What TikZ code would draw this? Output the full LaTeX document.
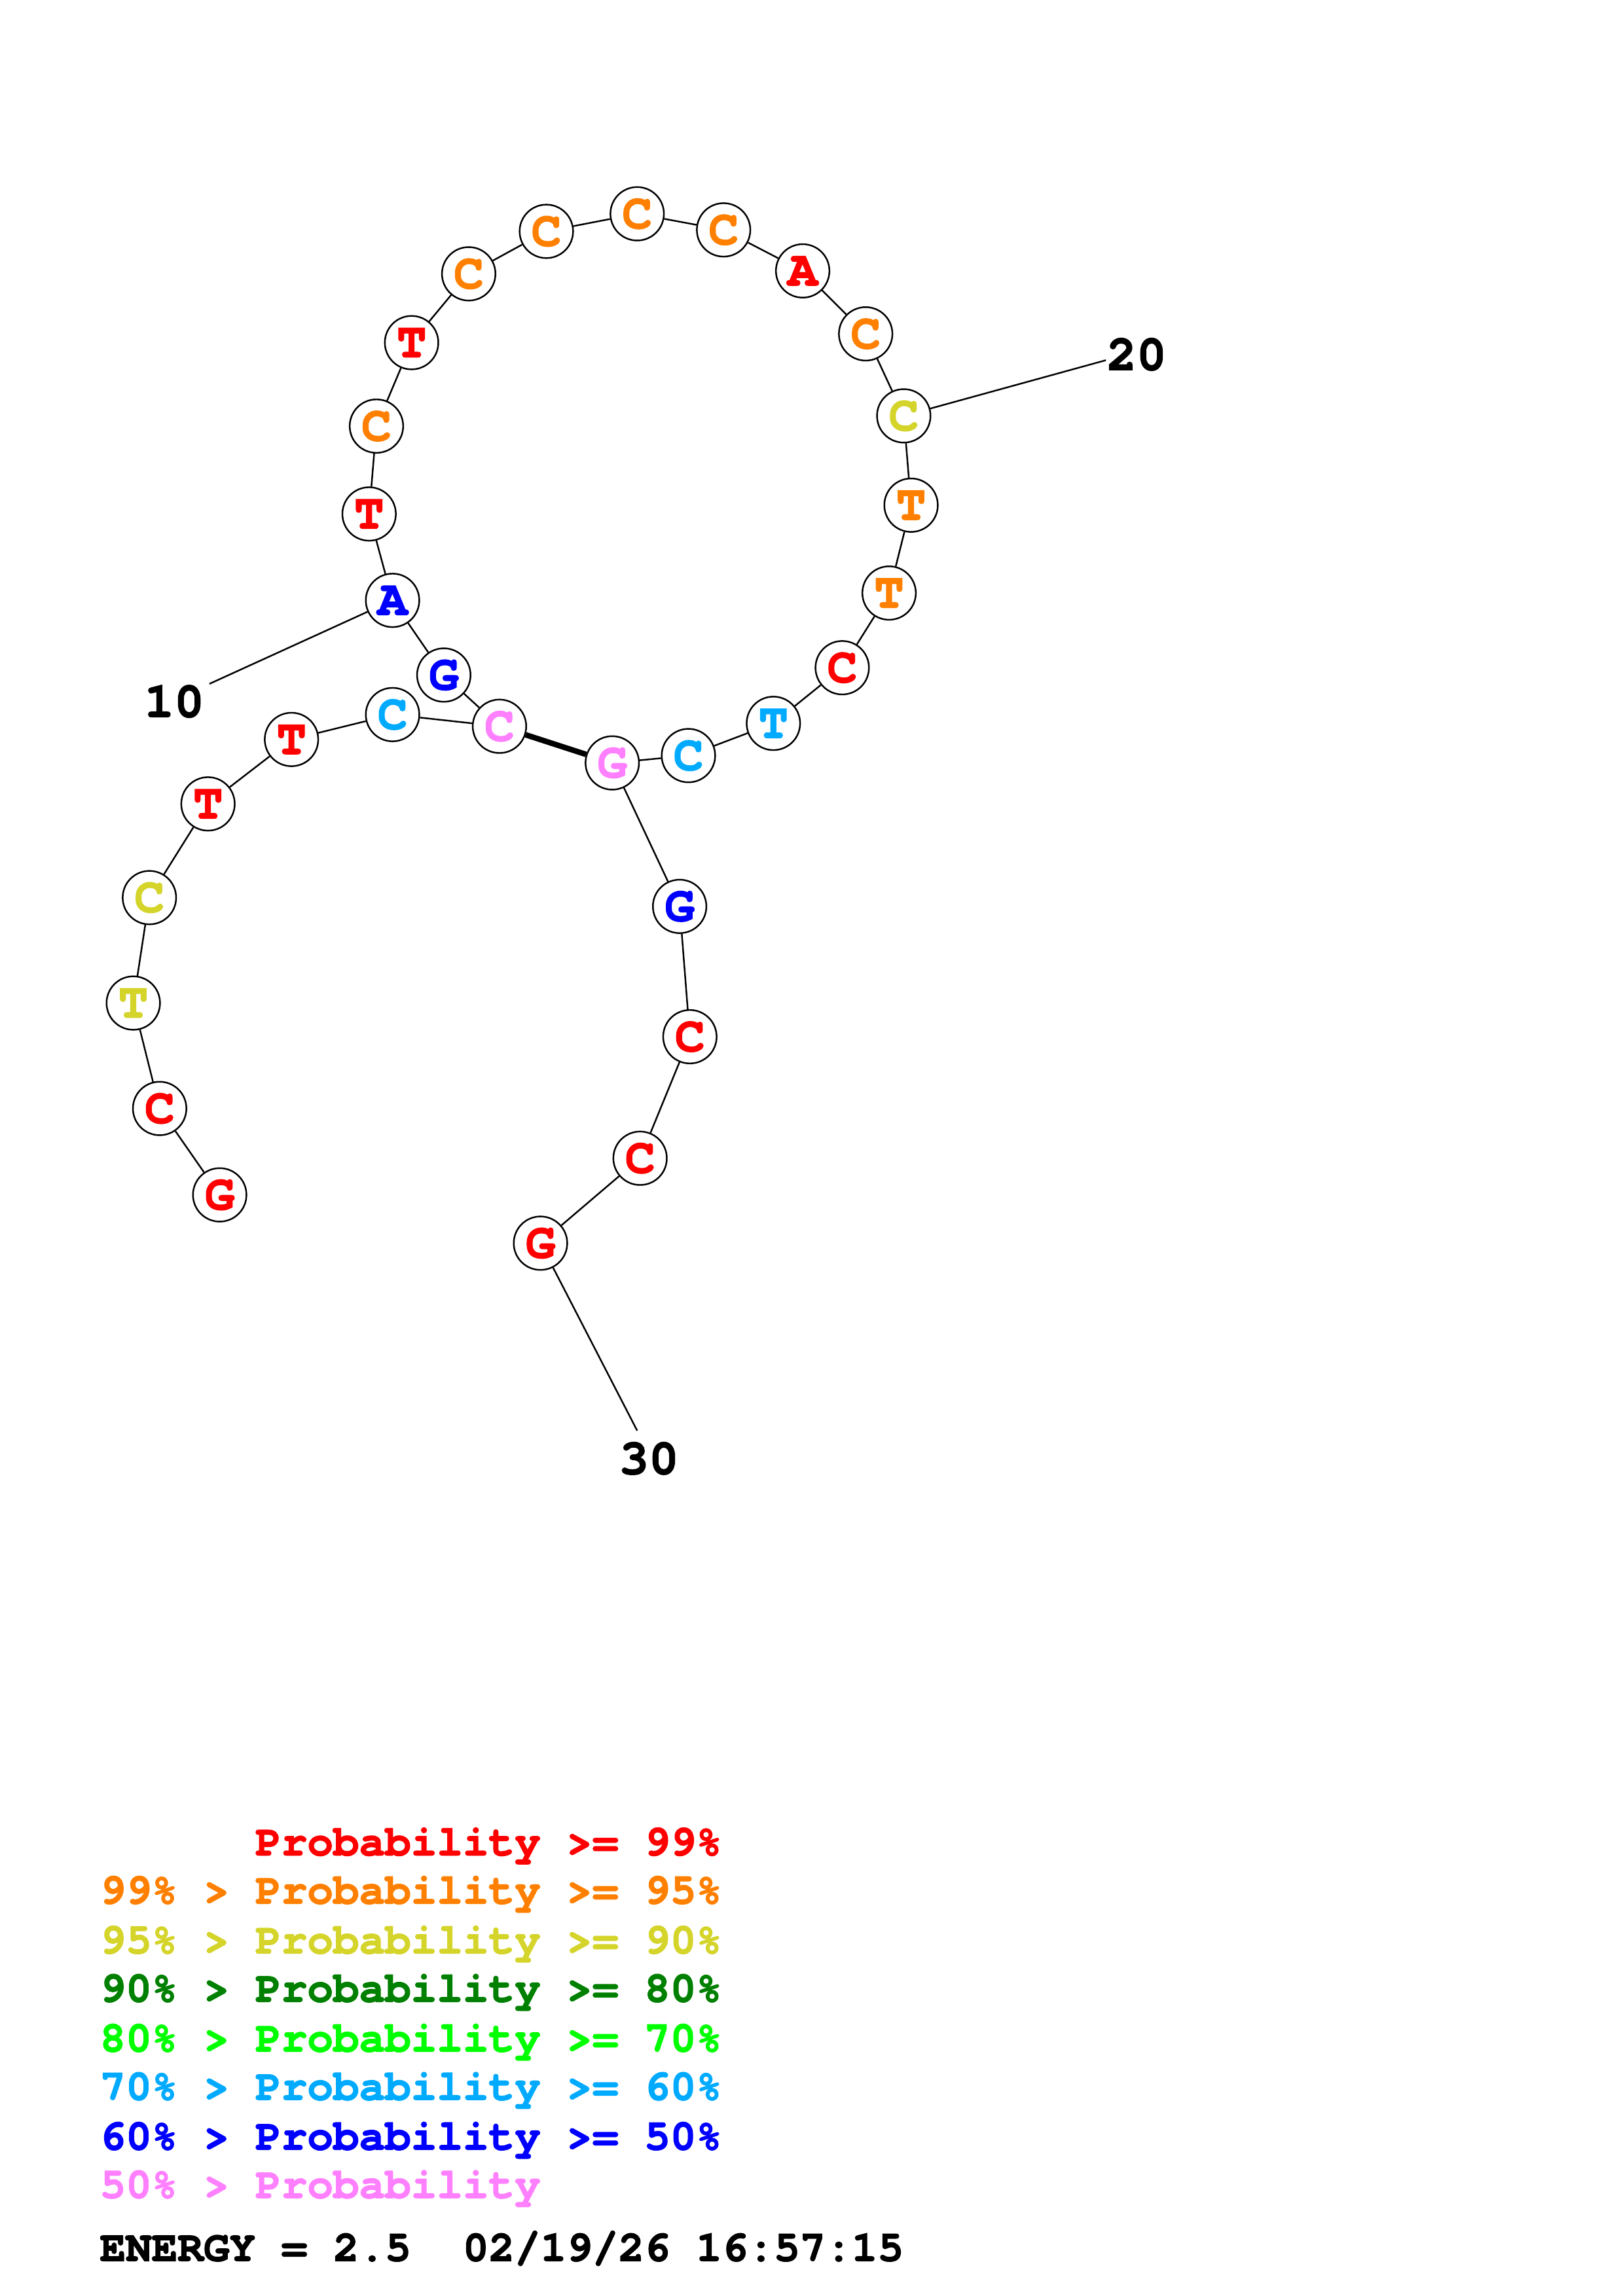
\documentclass[tikz,border=0pt]{standalone}
\usepackage{fontspec}
\newfontfamily\cour{texgyrecursor}[Extension=.otf, UprightFont=*-regular, BoldFont=*-bold, BoldFeatures={FakeBold=2}]
\definecolor{pr}{HTML}{FF0000}
\definecolor{po}{HTML}{FF8000}
\definecolor{py}{HTML}{D4D42A}
\definecolor{pdg}{HTML}{008000}
\definecolor{pg}{HTML}{00FF00}
\definecolor{pc}{HTML}{00AAFF}
\definecolor{pb}{HTML}{0000FF}
\definecolor{pp}{HTML}{FF80FF}
\tikzset{
  base/.style={circle, draw=black, line width=1.1pt, fill=white, minimum size=36.5pt, inner sep=0pt,
    font=\cour\bfseries\fontsize{34}{34}\selectfont},
  bb/.style={line width=1.1pt},
  pairline/.style={line width=3.8pt},
  lbl/.style={font=\cour\bfseries\fontsize{34}{34}\selectfont, inner sep=0pt},
  leg/.style={font=\cour\bfseries\fontsize{29.5}{30}\selectfont, inner sep=0pt, anchor=base west}
}
\begin{document}
\begin{tikzpicture}[x=1pt,y=-1pt]
\useasboundingbox (0,0) rectangle (1108,1568);
% bases
\node[base, text=pr] (n1) at (150,816) {G};
\node[base, text=pr] (n2) at (109,757) {C};
\node[base, text=py] (n3) at (91,685) {T};
\node[base, text=py] (n4) at (102,613) {C};
\node[base, text=pr] (n5) at (142,549) {T};
\node[base, text=pr] (n6) at (199,505) {T};
\node[base, text=pc] (n7) at (268,488) {C};
\node[base, text=pp] (n8) at (341,496) {C};
\node[base, text=pb] (n9) at (303,461) {G};
\node[base, text=pb] (n10) at (268,410) {A};
\node[base, text=pr] (n11) at (252,351) {T};
\node[base, text=po] (n12) at (257,291) {C};
\node[base, text=pr] (n13) at (281,234) {T};
\node[base, text=po] (n14) at (320,187) {C};
\node[base, text=po] (n15) at (373,158) {C};
\node[base, text=po] (n16) at (435,146) {C};
\node[base, text=po] (n17) at (494,157) {C};
\node[base, text=pr] (n18) at (548,185) {A};
\node[base, text=po] (n19) at (591,228) {C};
\node[base, text=py] (n20) at (617,284) {C};
\node[base, text=po] (n21) at (622,345) {T};
\node[base, text=po] (n22) at (607,405) {T};
\node[base, text=pr] (n23) at (575,456) {C};
\node[base, text=pc] (n24) at (528,494) {T};
\node[base, text=pc] (n25) at (470,516) {C};
\node[base, text=pp] (n26) at (418,521) {G};
\node[base, text=pb] (n27) at (464,619) {G};
\node[base, text=pr] (n28) at (471,708) {C};
\node[base, text=pr] (n29) at (437,791) {C};
\node[base, text=pr] (n30) at (369,849) {G};
% backbone
\draw[bb] (n1)--(n2) (n2)--(n3) (n3)--(n4) (n4)--(n5) (n5)--(n6) (n6)--(n7) (n7)--(n8)
  (n8)--(n9) (n9)--(n10) (n10)--(n11) (n11)--(n12) (n12)--(n13) (n13)--(n14) (n14)--(n15)
  (n15)--(n16) (n16)--(n17) (n17)--(n18) (n18)--(n19) (n19)--(n20) (n20)--(n21) (n21)--(n22)
  (n22)--(n23) (n23)--(n24) (n24)--(n25) (n25)--(n26) (n26)--(n27) (n27)--(n28) (n28)--(n29)
  (n29)--(n30);
\draw[pairline] (n8)--(n26);
% number labels
\coordinate (l10) at (143,467);
\coordinate (l20) at (755,246);
\coordinate (l30) at (435,977);
\draw[bb] (l10)--(n10);
\draw[bb] (l20)--(n20);
\draw[bb] (l30)--(n30);
\node[lbl] (t10) at (119,479) {10};
\node[lbl] (t20) at (776,242) {20};
\node[lbl] (t30) at (443,996) {30};
% legend
\node[leg, text=pr] (g1) at (68,1267) {\phantom{99\% > }Probability >= 99\%};
\node[leg, text=po] (g2) at (68,1300) {99\% > Probability >= 95\%};
\node[leg, text=py] (g3) at (68,1334) {95\% > Probability >= 90\%};
\node[leg, text=pdg] (g4) at (68,1367) {90\% > Probability >= 80\%};
\node[leg, text=pg] (g5) at (68,1401) {80\% > Probability >= 70\%};
\node[leg, text=pc] (g6) at (68,1434) {70\% > Probability >= 60\%};
\node[leg, text=pb] (g7) at (68,1468) {60\% > Probability >= 50\%};
\node[leg, text=pp] (g8) at (68,1501) {50\% > Probability};
\node[leg, text=black] (g9) at (68,1544) {ENERGY = 2.5\ \ 02/19/26 16:57:15};
\end{tikzpicture}
\end{document}
